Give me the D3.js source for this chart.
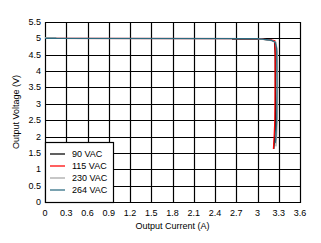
<!DOCTYPE html>
<html>
<head>
<meta charset="utf-8">
<script src="https://cdn.jsdelivr.net/npm/d3@7"></script>
<style>
  body { margin: 0; background: #fff; }
  text { font-family: "Liberation Sans", Arial, sans-serif; font-size: 9px; fill: #000; }
</style>
</head>
<body>
<script>
// series names and colours for the legend
const seriesNames = ["90 VAC", "115 VAC", "230 VAC", "264 VAC"];
const seriesColors = ["#000000", "#ff0000", "#a6a6a6", "#2b6a80"];

// [current A, voltage V]
const vac90 = [[2.64, 4.975], [3.04, 4.975], [3.12, 4.96], [3.2, 4.94], [3.24, 4.9], [3.25, 4.5], [3.255, 3.0], [3.25, 2.2], [3.24, 1.9], [3.23, 1.62]];
const vac115 = [[0, 5.0], [3.0, 4.99], [3.2, 4.95], [3.245, 4.93], [3.25, 4.5], [3.248, 3.5], [3.245, 2.5], [3.235, 2.0], [3.225, 1.62]];
const vac230 = [[0, 5.02], [0.15, 5.02], [0.16, 5.0], [3.0, 4.99], [3.1, 4.96], [3.2, 4.93], [3.26, 4.88], [3.28, 4.6], [3.285, 3.5], [3.28, 2.5], [3.27, 2.0], [3.26, 1.7]];
const vac264 = [[0, 5.0], [3.0, 4.995], [3.1, 4.97], [3.2, 4.94], [3.25, 4.88], [3.27, 4.7], [3.275, 3.5], [3.27, 2.5], [3.26, 2.0], [3.25, 1.8]];

const xTicks = [0, 0.3, 0.6, 0.9, 1.2, 1.5, 1.8, 2.1, 2.4, 2.7, 3, 3.3, 3.6];
const yTicks = [0, 0.5, 1, 1.5, 2, 2.5, 3, 3.5, 4, 4.5, 5, 5.5];

const width = 321, height = 243;
const plotL = 45, plotR = 300, plotT = 22, plotB = 202;

const svg = d3.select("body").append("svg")
  .attr("width", width)
  .attr("height", height);

const x = d3.scaleLinear().domain([0, 3.6]).range([plotL, plotR]);
const y = d3.scaleLinear().domain([0, 5.5]).range([plotB, plotT]);

// grid
svg.append("g").selectAll("line")
  .data(xTicks)
  .enter().append("line")
  .attr("x1", d => Math.round(x(d)) + 0.5)
  .attr("x2", d => Math.round(x(d)) + 0.5)
  .attr("y1", plotT)
  .attr("y2", plotB + 1)
  .attr("stroke", "#000")
  .attr("stroke-width", 1.2);

svg.append("g").selectAll("line")
  .data(yTicks)
  .enter().append("line")
  .attr("y1", d => Math.round(y(d)) + 0.5)
  .attr("y2", d => Math.round(y(d)) + 0.5)
  .attr("x1", plotL)
  .attr("x2", plotR + 1)
  .attr("stroke", "#000")
  .attr("stroke-width", 1.2);

// tick labels
svg.append("g").selectAll("text")
  .data(xTicks)
  .enter().append("text")
  .attr("x", d => x(d))
  .attr("y", 216)
  .attr("text-anchor", "middle")
  .text(d => d);

svg.append("g").selectAll("text")
  .data(yTicks)
  .enter().append("text")
  .attr("x", 41)
  .attr("y", d => y(d) + 3)
  .attr("text-anchor", "end")
  .text(d => d);

// axis titles
svg.append("text")
  .attr("x", (plotL + plotR) / 2)
  .attr("y", 229)
  .attr("text-anchor", "middle")
  .text("Output Current (A)");

svg.append("text")
  .attr("transform", `translate(19,${(plotT + plotB) / 2}) rotate(-90)`)
  .attr("text-anchor", "middle")
  .text("Output Voltage (V)");

// curves
const line = d3.line().x(d => x(d[0])).y(d => y(d[1]));
const allSeries = [vac90, vac115, vac230, vac264];

svg.append("g").selectAll("path")
  .data(allSeries)
  .enter().append("path")
  .attr("d", line)
  .attr("fill", "none")
  .attr("stroke", (d, i) => seriesColors[i])
  .attr("stroke-width", 1.25);

// legend
const legend = svg.append("g");
legend.append("rect")
  .attr("x", plotL + 0.5)
  .attr("y", 142.5)
  .attr("width", 68)
  .attr("height", 60)
  .attr("fill", "#fff")
  .attr("stroke", "#000")
  .attr("stroke-width", 1.2);

const rows = legend.selectAll("g.row")
  .data(seriesNames)
  .enter().append("g")
  .attr("transform", (d, i) => `translate(0,${154 + i * 12})`);

rows.append("line")
  .attr("x1", 50)
  .attr("x2", 65)
  .attr("stroke", (d, i) => seriesColors[i])
  .attr("stroke-width", 1.25);

rows.append("text")
  .attr("x", 72)
  .attr("y", 3)
  .text(d => d);
</script>
</body>
</html>
